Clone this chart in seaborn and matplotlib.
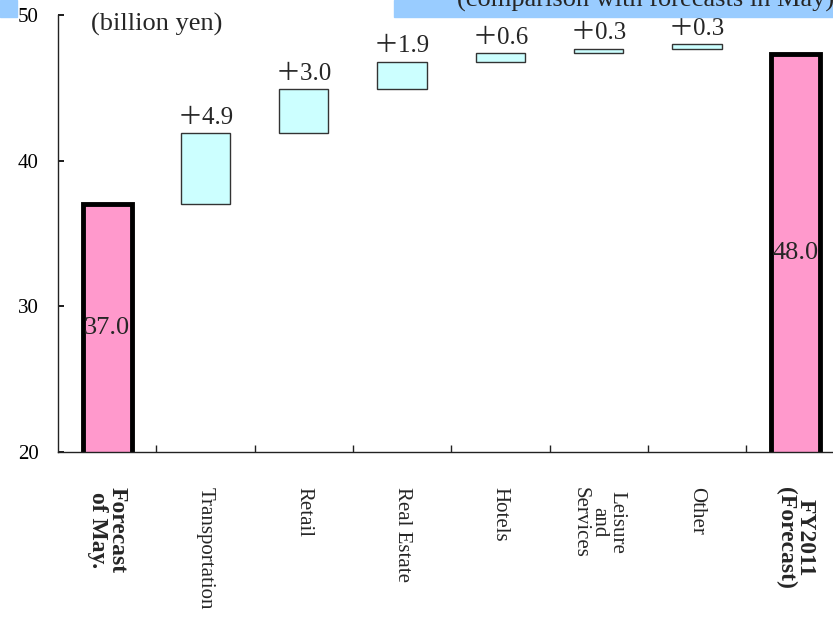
import numpy as np
import pandas as pd
import seaborn as sns
import matplotlib.pyplot as plt
from matplotlib.patches import Rectangle

# data (billion yen)
categories = ["Forecast\nof May.", "Transportation", "Retail", "Real Estate",
              "Hotels", "Leisure\nand\nServices", "Other", "FY2011\n(Forecast)"]
total_values = [37.0, 47.3]          # drawn heights of the two total bars
total_labels = ["37.0", "48.0"]
segments = ["Transportation", "Retail", "Real Estate", "Hotels",
            "Leisure\nand\nServices", "Other"]
deltas = [4.9, 3.0, 1.9, 0.6, 0.3, 0.3]
delta_labels = ["＋4.9", "＋3.0", "＋1.9", "＋0.6", "＋0.3", "＋0.3"]
y_ticks = [20, 30, 40, 50]

pink = "#FF99CC"
cyan = "#CCFFFF"
blue = "#99CCFF"
serif = ["Liberation Serif", "Noto Sans CJK JP"]

sns.set_theme(style="ticks")
plt.rcParams["font.family"] = serif

fig = plt.figure(figsize=(8.33, 6.3), dpi=100)
fig.patch.set_facecolor("white")
ax = fig.add_axes([58 / 833, 178 / 630, 786.4 / 833, 437 / 630])
ax.set_facecolor("white")

# totals (first and last bar)
df_tot = pd.DataFrame({"categorie": [categories[0], categories[-1]],
                       "waarde": total_values})
sns.barplot(data=df_tot, x="categorie", y="waarde", order=categories,
            width=0.5, color=pink, edgecolor="black", linewidth=3.5,
            saturation=1, ax=ax)

# floating segments
pos = [categories.index(s) for s in segments]
starts = total_values[0] + np.concatenate([[0], np.cumsum(deltas)[:-1]])
ax.bar(pos, deltas, bottom=starts, width=0.5, color=cyan,
       edgecolor="#333333", linewidth=1, zorder=3)

for p, s, d, lab in zip(pos, starts, deltas, delta_labels):
    ax.annotate(lab, (p, s + d), xytext=(0, 3), textcoords="offset points",
                ha="center", va="bottom", fontsize=18, family=serif)

for p, v, lab in zip([0, len(categories) - 1], total_values, total_labels):
    ax.text(p, (v + 20) / 2, lab, ha="center", va="center", fontsize=19,
            family=serif, zorder=4)

ax.set_xlim(-0.5, 7.5)
ax.set_ylim(20, 50)
ax.set_yticks(y_ticks)
ax.set_yticklabels([str(t) for t in y_ticks], fontsize=15)
ax.set_xlabel("")
ax.set_ylabel("")
sns.despine(ax=ax)
for sp in ["left", "bottom"]:
    ax.spines[sp].set_color("#222222")
    ax.spines[sp].set_linewidth(1)

ax.tick_params(axis="y", direction="in", length=4, pad=14, colors="black")
ax.set_xticks(range(len(categories)))
ax.set_xticklabels(categories, rotation=270, ha="center", va="top",
                   fontsize=15, linespacing=0.95)
ax.tick_params(axis="x", which="major", length=0, pad=25)
ax.set_xticks(np.arange(0.5, len(categories), 1), minor=True)
ax.tick_params(axis="x", which="minor", direction="in", length=5,
               color="#222222")
for t in ax.get_xticklabels():
    if t.get_text() in (categories[0], categories[-1]):
        t.set_fontweight("bold")
        t.set_fontsize(17)

# header boxes and unit
fig.patches.append(Rectangle((394 / 833, 1 - 17 / 630), 1, 17 / 630,
                             transform=fig.transFigure, color=blue, zorder=0))
fig.patches.append(Rectangle((0, 1 - 17 / 630), 17 / 833, 17 / 630,
                             transform=fig.transFigure, color=blue, zorder=0))
fig.text(834 / 833, 1 - 7 / 630, "(comparison with forecasts in May)",
         ha="right", va="baseline", fontsize=19, family=serif)
fig.text(91 / 833, 1 - 31 / 630, "(billion yen)", ha="left", va="baseline",
         fontsize=19, family=serif)

plt.savefig("out.png", dpi=100)
